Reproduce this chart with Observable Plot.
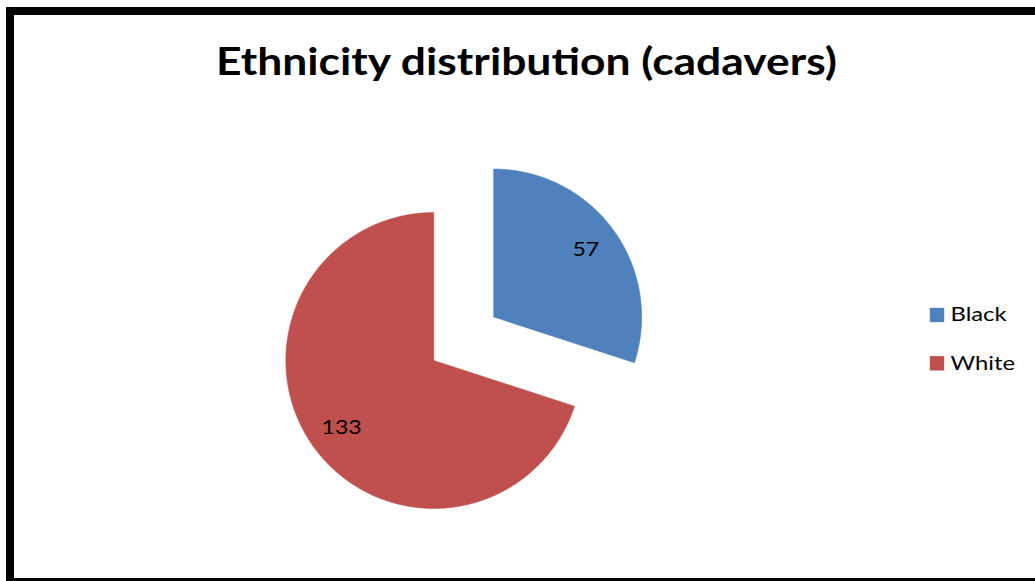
<!DOCTYPE html>
<html><head><meta charset="utf-8">
<script src="https://cdn.jsdelivr.net/npm/d3@7"></script>
<script src="https://cdn.jsdelivr.net/npm/@observablehq/plot@0.6"></script>
<style>
html,body{margin:0;padding:0;background:#fff;overflow:hidden;width:1035px;height:581px}
#wrap{position:relative;width:1035px;height:581px;overflow:hidden}
#border{position:absolute;left:6px;top:7px;width:1100px;height:563px;border:8px solid #000;pointer-events:none}
svg{display:block}
</style></head><body><div id="wrap"><div id="chart"></div><div id="border"></div></div>
<script>
// ---- data ----
const title = "Ethnicity distribution (cadavers)";
const categories = ["Black", "White"];
const values = [57, 133];
const colors = ["#4F81BD", "#C0504D"];

// ---- layout ----
const W = 1035, H = 581;
const CX = 433.3, CY = 360, R = 148;     // pie centre & radius (px)
const EXPLODE = [0.5, 0];                 // explosion as fraction of radius
const LABEL_R = 0.77;                     // data label radius fraction
const LX = 936.5, LY0 = 314.5, LSTEP = 48.3; // legend layout
const STRETCH = 1.19;                     // horizontal text stretch of the reference

const colorOf = name => colors[categories.indexOf(name)];
const slices = categories.map((c, i) => ({name: c, value: values[i]}));
const arcs = d3.pie().sort(null).value(d => d.value)(slices);
const pts = [], labels = [];
arcs.forEach(a => {
  const name = a.data.name;
  const mid = (a.startAngle + a.endAngle) / 2;
  const off = EXPLODE[a.index] * R;
  const cx = CX + off * Math.sin(mid), cy = CY - off * Math.cos(mid);
  pts.push({name, x: cx, y: cy});
  const n = Math.max(2, Math.ceil((a.endAngle - a.startAngle) / (Math.PI / 360)));
  for (let k = 0; k <= n; k++) {
    const t = a.startAngle + (a.endAngle - a.startAngle) * k / n;
    pts.push({name, x: cx + R * Math.sin(t), y: cy - R * Math.cos(t)});
  }
  pts.push({name, x: cx, y: cy});
  labels.push({name, value: a.data.value, x: cx + LABEL_R * R * Math.sin(mid), y: cy - LABEL_R * R * Math.cos(mid)});
});

const chart = Plot.plot({
  width: W, height: H,
  margin: 0,
  style: {fontFamily: "Lato, sans-serif", background: "#fff", overflow: "visible"},
  x: {domain: [0, W], range: [0, W], axis: null},
  y: {domain: [0, H], range: [0, H], axis: null},
  marks: [
    Plot.line(pts, {x: "x", y: "y", z: "name", fill: d => colorOf(d.name), stroke: d => colorOf(d.name), strokeWidth: 0.5, curve: "linear"}),
    Plot.text(labels, {x: "x", y: "y", text: d => String(d.value), fontSize: 19.5, fill: "#000"}),
    Plot.text([title], {frameAnchor: "top", dx: 8.5, dy: 63, fontSize: 37.3, fontWeight: "bold", fill: "#000", lineAnchor: "middle"}),
    Plot.dot(categories, {x: () => LX, y: (d, i) => LY0 + i * LSTEP, fill: d => colorOf(d), symbol: "square", r: 8.1}),
    Plot.text(categories, {x: () => LX + 13.5, y: (d, i) => LY0 + i * LSTEP, text: d => d, textAnchor: "start", fontSize: 20, fill: "#000"})
  ]
});
document.getElementById("chart").appendChild(chart);
chart.querySelectorAll("text").forEach(t => {
  const L = t.getComputedTextLength();
  if (L > 0) {
    t.setAttribute("textLength", (L * STRETCH).toFixed(1));
    t.setAttribute("lengthAdjust", "spacingAndGlyphs");
  }
});
</script>
</body></html>
